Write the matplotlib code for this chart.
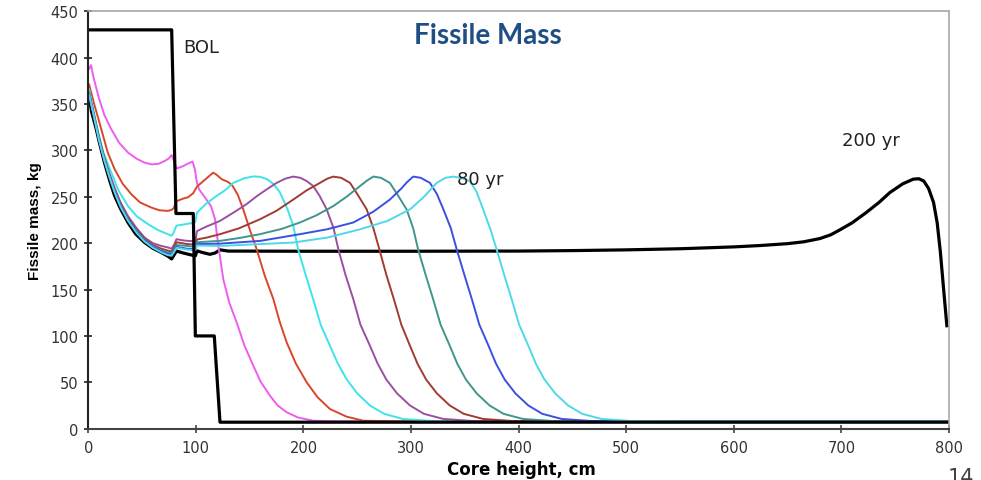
import matplotlib.pyplot as plt

# core height (cm) / fissile mass (kg)
bol_x = [0, 77.5, 81.5, 97.6, 99.5, 102, 117.1, 122.4, 130, 800]
bol_y = [430, 430, 232, 232, 100, 100, 100, 7, 7, 7]

magenta_x = [0.8, 2.5, 5, 10, 15, 21.4, 28.8, 36.9, 45, 52, 58.6, 65, 71, 75, 77.5,
             79.5, 82, 88, 93, 97, 99, 101, 103, 108, 114, 117.8, 120, 121.8, 125.5,
             131, 137.9, 145, 153.4, 160, 168.9, 176, 184.4, 195, 209, 230, 260, 300, 800]
magenta_y = [388, 392, 378, 356, 338, 322.8, 308, 297.7, 291, 287, 285, 285.5, 288.6,
             291.5, 295, 289, 280.5, 283, 286, 288, 280, 265, 258, 250, 240, 226, 205,
             190, 161, 136, 114.6, 90, 67.9, 51, 35.5, 25, 17.7, 12, 8.6, 8, 8, 8, 8]

red_x = [0.8, 5, 12.1, 18, 24.5, 32, 40, 48, 58.6, 66, 74.1, 77.5, 79.5, 81.5, 88, 92.7,
         97.6, 101, 107, 112, 116, 119, 124, 130, 134, 139, 144, 150, 156.5, 164, 172,
         178, 184.4, 193, 203, 213, 224.6, 240, 255.6, 280, 320, 800]
red_y = [371, 352, 322.8, 298, 279.7, 264, 252.8, 244, 238.4, 235.5, 234.8, 236, 238,
         245, 248, 249.5, 254, 261, 267, 272, 276, 274, 269, 266, 262, 252, 236.6, 215,
         193.5, 165, 139.7, 115, 93, 70, 50, 34, 21.2, 13, 8.6, 8, 8, 8]

cyan_x = [0.8, 4, 8.6, 14, 21.4, 28, 36.9, 45, 55.5, 65, 74.1, 77.5, 79.5, 82, 88, 97.6,
          99.5, 101, 110, 119.3, 127, 134.8, 145, 153.4, 160, 166, 172, 178, 185, 190.5,
          195, 202, 209, 216, 224.6, 232, 240, 250, 262, 275, 292.7, 320, 360, 800]
cyan_y = [366, 347, 322.8, 298, 276, 257, 240, 229, 220.5, 214, 209.7, 208, 212, 219,
          220, 222, 223, 233, 243, 251, 257, 265, 270, 272, 271.5, 269, 264, 255, 237,
          219, 193.5, 166, 139.7, 112, 89.4, 70, 53.5, 38, 24.8, 16, 10.4, 8.3, 8, 8]

purple_x = [0.8, 5, 10, 15, 20, 25, 30, 37, 45, 52.4, 60, 68, 74.1, 77.5, 79.5, 82, 88,
            92.7, 99.5, 101, 110, 122.4, 135, 147, 157, 165.8, 175, 183, 190.5, 197, 203,
            209, 215, 221.5, 228, 232.4, 239, 246.3, 253, 261.8, 269, 277, 287, 299, 312,
            330, 357, 400, 800]
purple_y = [362, 340, 314, 292, 274, 258, 244, 229, 216, 206, 200, 197, 195.4, 194, 198,
            204.3, 203, 202.5, 202, 213, 218, 224, 233, 242, 251, 258, 265, 269.5, 271.8,
            270.5, 267, 261.7, 251, 236.6, 216, 193.5, 166, 139.7, 112, 89.4, 70, 53, 38,
            25, 16, 10.5, 8.3, 8, 8]

brown_x = [0.8, 5, 10, 15, 20, 25, 30, 37, 45, 52, 60, 68, 74.1, 77.5, 79.5, 82, 92, 99.5,
           101, 110, 122.4, 140, 159.6, 175, 190.5, 203, 215.3, 222, 227.7, 235, 243.3,
           250, 258.7, 265, 270.5, 277, 284, 291, 299, 306, 314, 324, 336, 349, 367, 394,
           440, 800]
brown_y = [361, 339, 313, 291, 272, 256, 242, 227, 214, 205, 198, 194, 192, 191, 195, 201,
           199, 198.5, 204, 206, 209.7, 216, 225.8, 235, 247, 257, 265, 269.5, 271.8,
           270.5, 265, 253, 236.6, 216, 193.5, 166, 139.7, 112, 89.4, 70, 53, 38, 25, 16,
           10.5, 8.3, 8, 8]

teal_x = [0.8, 5, 10, 15, 20, 25, 30, 37, 45, 52, 60, 68, 74.1, 77.5, 79.5, 82, 92, 99.5,
          101, 122.4, 140, 159.6, 180, 196.7, 212, 227.7, 240, 252.7, 259, 264.9, 272,
          280.3, 287, 295.8, 302, 306.5, 313.5, 320.5, 327.5, 336, 343, 351, 361, 373,
          386, 404, 431, 480, 800]
teal_y = [361, 339, 312, 290, 271, 255, 241, 226, 213, 204, 197, 192, 190, 189, 193, 198,
          197, 196, 201, 202.5, 205.5, 209.7, 215.5, 222.3, 230, 240, 250, 261.7, 267.5,
          271.8, 270.5, 265, 253, 236.6, 216, 193.5, 166, 139.7, 112, 89.4, 70, 53, 38,
          25, 16, 10.5, 8.3, 8, 8]

blue_x = [0.8, 5, 10, 15, 20, 25, 30, 37, 45, 52, 60, 68, 74.1, 77.5, 79.5, 82, 92, 99.5,
          101, 122.4, 160, 196.7, 222, 246.3, 265, 280.3, 291, 296, 302, 309, 317.6, 324,
          330, 337, 342.4, 349.5, 356.5, 363.5, 372, 379, 387, 397, 409, 422, 440, 467,
          520, 800]
blue_y = [360, 338, 311, 289, 270, 254, 240, 225, 212, 203, 196, 191, 188.5, 187.5, 191,
          196, 194, 193.5, 199, 199.5, 202.5, 209.7, 215, 222.3, 234, 247, 259, 265.5,
          271.8, 270.5, 265, 253, 236.6, 216, 193.5, 166, 139.7, 112, 89.4, 70, 53, 38,
          25, 16, 10.5, 8.3, 8, 8]

ltcyan_x = [0.8, 5, 10, 15, 20, 25, 30, 37, 45, 52, 60, 68, 74.1, 77.5, 79.5, 82, 92,
            99.5, 101, 122.4, 150, 190.5, 222, 252.7, 278, 299.2, 312, 323.8, 332, 339.2,
            346, 354.7, 361, 367, 374, 379.5, 386.5, 393.5, 400.5, 409, 416, 424, 434,
            446, 459, 477, 504, 560, 800]
ltcyan_y = [360, 338, 311, 289, 270, 253, 239, 224, 211, 202, 195, 190, 187, 186.5, 190,
            195, 193, 192.5, 197.5, 197, 198.5, 200.7, 206, 215, 224, 236.6, 250, 265,
            270.5, 271.8, 270.5, 267, 255, 236.6, 214, 193.5, 166, 139.7, 112, 89.4, 70,
            53, 38, 25, 16, 10.5, 8.3, 8, 8]

yr200_x = [0.8, 3, 7.4, 10, 15, 20, 24.5, 30, 36.9, 44, 52.4, 60, 67.8, 74, 77.5, 79.5,
           82, 88, 95, 99.5, 101, 106, 113, 118, 122.4, 130, 200, 300, 400, 450, 500, 550,
           600, 625, 650, 665, 680, 690, 698, 710, 723, 735, 745, 757, 766.7, 772, 776.5,
           781, 785.6, 789, 792, 795, 798]
yr200_y = [359, 342, 323, 310, 287, 267, 251, 237, 222.3, 210, 200.7, 194.5, 190, 186,
           183, 187, 191.5, 189.5, 187.5, 186.3, 191.7, 190, 188, 189.5, 192.8, 191.5,
           191.3, 191.3, 191.5, 192, 192.8, 194, 196, 197.5, 199.5, 201.5, 205, 209, 214,
           222, 233, 244, 254.6, 264, 269, 269.5, 267, 259, 244, 222, 190, 150, 111]

series = [
    (magenta_x, magenta_y, "#ee5cf0"),
    (red_x, red_y, "#d9472b"),
    (cyan_x, cyan_y, "#3fe3ea"),
    (purple_x, purple_y, "#9a50a0"),
    (brown_x, brown_y, "#a03c30"),
    (teal_x, teal_y, "#40958c"),
    (blue_x, blue_y, "#3c50e0"),
    (ltcyan_x, ltcyan_y, "#4fd8ea"),
]

fig = plt.figure(figsize=(9.81, 4.81), dpi=100)
ax = fig.add_axes([0.090, 0.1067, 0.8774, 0.8677])

ax.plot(yr200_x, yr200_y, color="black", lw=2.3)
for xs, ys, col in series:
    ax.plot(xs, ys, color=col, lw=1.4)
ax.plot(bol_x, bol_y, color="black", lw=2.3)

ax.set_xlim(0, 800)
ax.set_ylim(0, 450)
ax.set_xticks(range(0, 801, 100))
ax.set_yticks(range(0, 451, 50))

for side in ("top", "right"):
    ax.spines[side].set_color("#a8a8a8")
    ax.spines[side].set_linewidth(1.2)
ax.spines["left"].set_color("#222222")
ax.spines["bottom"].set_color("#444444")
ax.spines["left"].set_linewidth(1.5)
ax.spines["bottom"].set_linewidth(1.5)

ax.tick_params(axis="x", direction="inout", length=6, width=1.2, colors="#444444",
               labelcolor="#333333", labelsize=10.5, pad=5)
ax.tick_params(axis="y", direction="inout", length=6, width=1.2, colors="#222222",
               labelcolor="#333333", labelsize=10.5, pad=4)
for lab in ax.get_xticklabels() + ax.get_yticklabels():
    lab.set_family("DejaVu Sans")

ax.set_xlabel("Core height, cm", fontsize=12, fontweight="bold", family="DejaVu Sans")
ax.xaxis.set_label_coords(0.503, -0.076)
ax.set_ylabel("Fissile mass, kg", fontsize=11, fontweight="bold", family="Liberation Sans",
              labelpad=6)

ax.text(88, 411, "BOL", fontsize=13, family="DejaVu Sans", va="center", color="#222222")
ax.text(343, 269, "80 yr", fontsize=13, family="DejaVu Sans", va="center", color="#222222")
ax.text(700.5, 311, "200 yr", fontsize=13, family="DejaVu Sans", va="center",
        color="#222222")

fig.text(0.497, 0.925, "Fissile Mass", fontsize=20, fontweight="bold", family="Lato",
         color="#1f4e85", ha="center", va="center")
fig.text(0.966, -0.014, "14", fontsize=15, family="DejaVu Sans", color="#404040",
         va="bottom")

fig.savefig("out.png", dpi=100)
